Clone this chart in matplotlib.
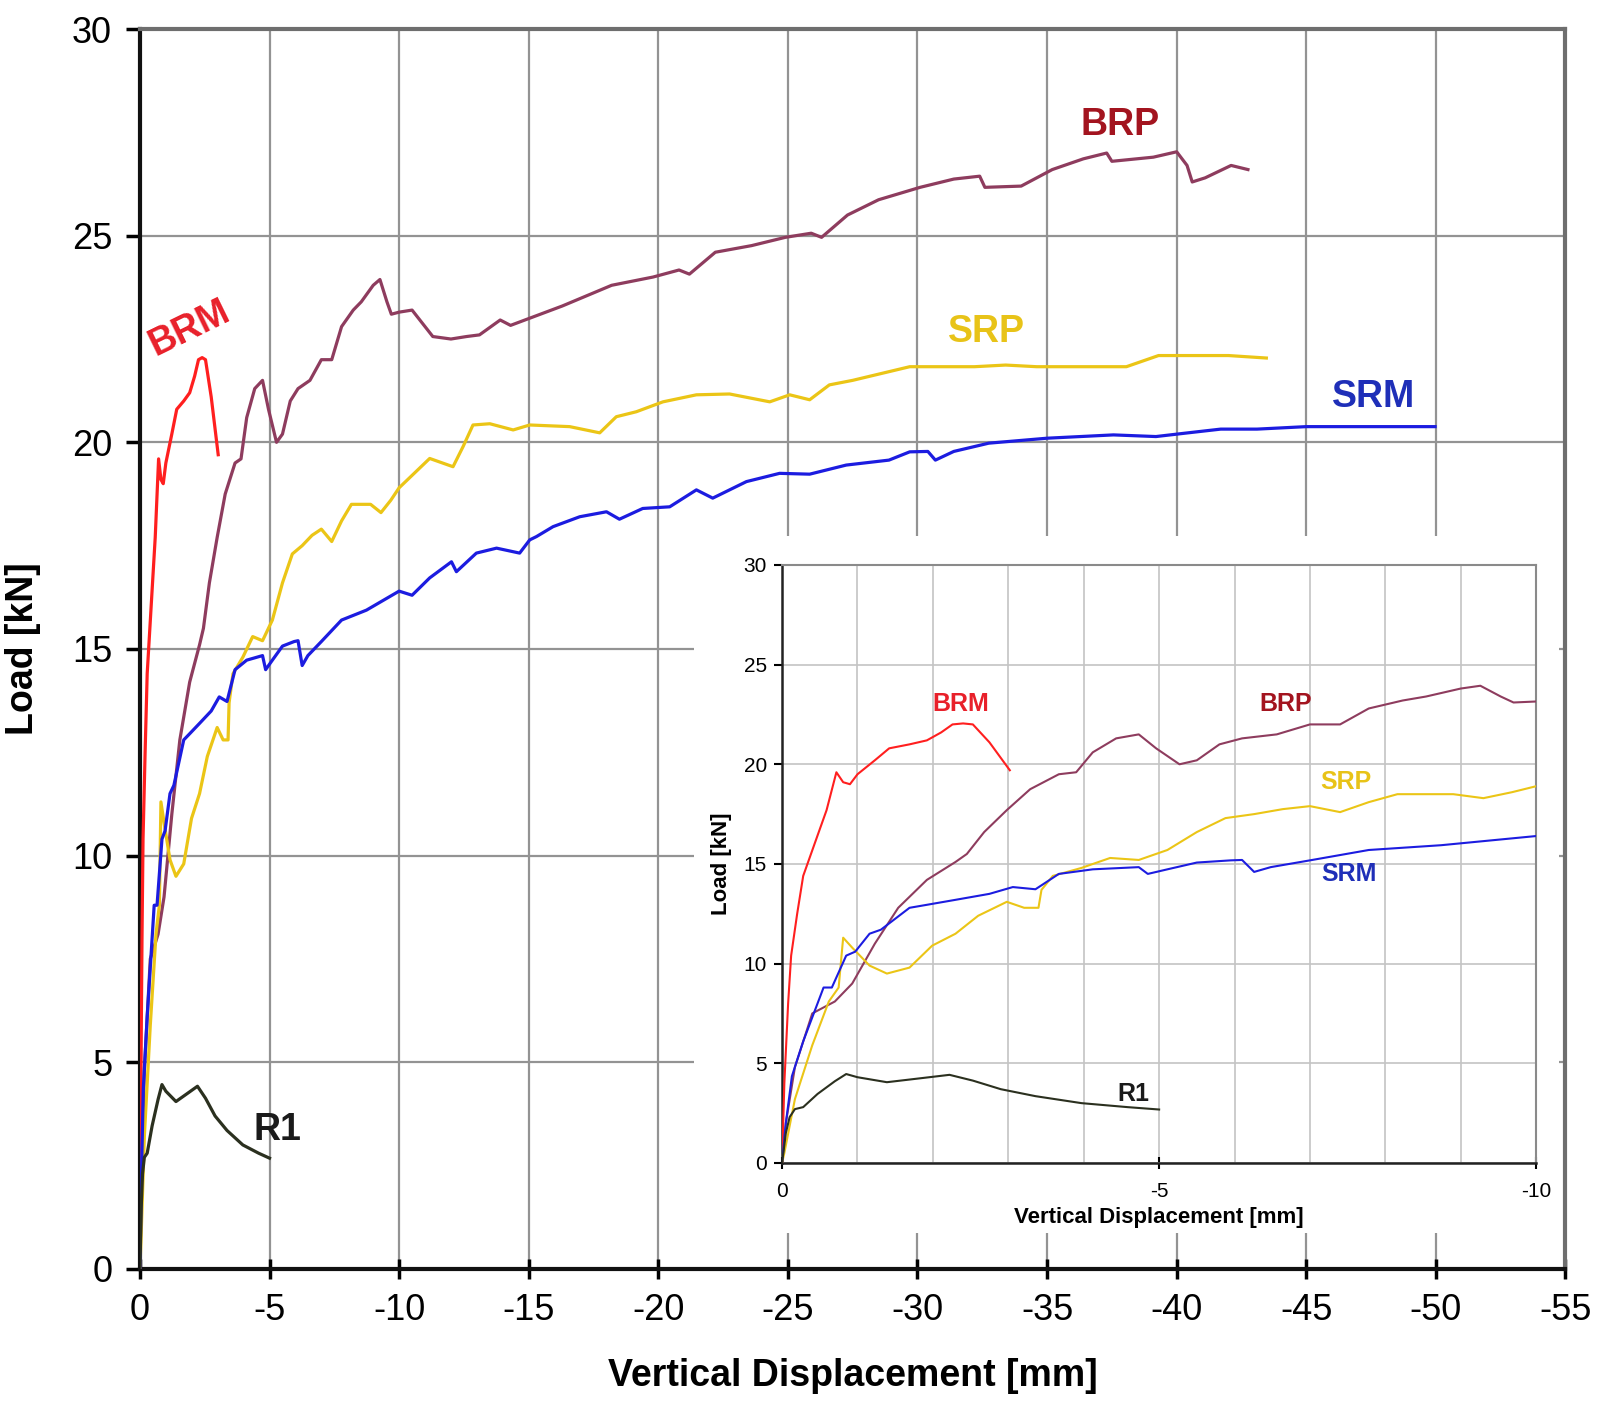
import matplotlib
matplotlib.use("Agg")
import matplotlib.pyplot as plt
from matplotlib.patches import Rectangle
from matplotlib.ticker import MultipleLocator

plt.rcParams['font.family'] = ['Liberation Sans', 'DejaVu Sans']
plt.rcParams['axes.unicode_minus'] = False

# displacement [mm] (negative = downward) and load [kN] for each specimen
brm_disp = [0, -0.03, -0.08, -0.12, -0.2, -0.28, -0.43, -0.59, -0.72, -0.81, -0.9, -1.0,
            -1.23, -1.42, -1.69, -1.92, -2.11, -2.26, -2.4, -2.53, -2.75, -3.02]
brm_load = [0, 4.0, 8.0, 10.4, 12.5, 14.4, 16.0, 17.7, 19.6, 19.1, 19.0, 19.5,
            20.2, 20.8, 21.0, 21.2, 21.6, 22.0, 22.05, 22.0, 21.1, 19.7]

brp_disp = [0, -0.05, -0.17, -0.4, -0.7, -0.93, -1.23, -1.54, -1.92, -2.3, -2.45, -2.68,
            -2.98, -3.29, -3.67, -3.9, -4.12, -4.43, -4.73, -4.96, -5.27, -5.5, -5.8,
            -6.1, -6.56, -7.0, -7.4, -7.78, -8.23, -8.54, -9.0, -9.26, -9.53, -9.7,
            -10.0, -10.5, -11.3, -12.0, -12.6, -13.1, -13.9, -14.3, -16.3, -18.2,
            -19.8, -20.8, -21.2, -22.2, -23.6, -24.9, -25.9, -26.3, -27.3, -28.5,
            -30.1, -31.4, -32.4, -32.6, -34.0, -35.2, -36.4, -37.3, -37.5, -39.1,
            -40.0, -40.4, -40.6, -41.1, -42.1, -42.75]
brp_load = [0, 2.0, 4.8, 7.5, 8.1, 9.0, 11.0, 12.8, 14.2, 15.1, 15.5, 16.6,
            17.7, 18.75, 19.5, 19.6, 20.6, 21.3, 21.5, 20.8, 20.0, 20.2, 21.0,
            21.3, 21.5, 22.0, 22.0, 22.8, 23.2, 23.4, 23.8, 23.94, 23.4, 23.1,
            23.15, 23.2, 22.56, 22.5, 22.56, 22.6, 22.96, 22.83, 23.3, 23.8,
            24.0, 24.17, 24.07, 24.6, 24.76, 24.96, 25.06, 24.96, 25.5, 25.87,
            26.17, 26.37, 26.44, 26.17, 26.2, 26.6, 26.86, 27.0, 26.8, 26.9,
            27.03, 26.7, 26.3, 26.4, 26.7, 26.6]

srp_disp = [0, -0.03, -0.17, -0.4, -0.62, -0.75, -0.81, -0.93, -1.16, -1.39, -1.69,
            -1.99, -2.3, -2.6, -2.98, -3.21, -3.4, -3.44, -3.59, -3.97, -4.35, -4.73,
            -5.11, -5.5, -5.88, -6.26, -6.64, -7.0, -7.4, -7.78, -8.16, -8.54, -8.9,
            -9.3, -9.68, -10.0, -11.18, -12.08, -12.47, -12.85, -13.5, -14.4, -15.04,
            -16.58, -17.74, -18.38, -19.15, -20.18, -21.47, -22.75, -24.3, -25.07,
            -25.84, -26.6, -27.5, -29.7, -32.2, -33.4, -34.6, -38.06, -39.3, -42.0,
            -43.46]
srp_load = [0, 0.5, 3.2, 5.9, 8.1, 8.8, 11.3, 10.8, 9.9, 9.5, 9.8,
            10.9, 11.5, 12.4, 13.1, 12.8, 12.8, 13.7, 14.4, 14.8, 15.3, 15.2,
            15.7, 16.6, 17.3, 17.5, 17.75, 17.9, 17.6, 18.1, 18.5, 18.5, 18.5,
            18.3, 18.6, 18.9, 19.61, 19.41, 19.9, 20.42, 20.45, 20.3, 20.42,
            20.38, 20.23, 20.62, 20.74, 20.98, 21.15, 21.17, 20.98, 21.15,
            21.03, 21.39, 21.5, 21.83, 21.83, 21.87, 21.83, 21.83, 22.1, 22.1,
            22.04]

srm_disp = [0, -0.05, -0.13, -0.28, -0.55, -0.66, -0.85, -0.97, -1.16, -1.31, -1.69,
            -1.92, -2.3, -2.75, -3.06, -3.36, -3.67, -4.12, -4.73, -4.85, -5.11,
            -5.5, -5.95, -6.1, -6.26, -6.48, -7.0, -7.78, -8.74, -10.0, -10.5,
            -11.18, -12.02, -12.21, -12.98, -13.76, -14.65, -15.04, -15.3, -15.94,
            -16.97, -18.0, -18.5, -19.4, -20.44, -21.47, -22.1, -23.4, -24.68,
            -25.84, -27.25, -28.9, -29.7, -30.4, -30.69, -31.4, -32.75, -35.0,
            -37.56, -39.2, -40.3, -41.7, -43.1, -45.0, -49.97]
srm_load = [0, 2.0, 4.35, 6.1, 8.8, 8.8, 10.4, 10.6, 11.5, 11.7, 12.8,
            12.95, 13.2, 13.5, 13.84, 13.73, 14.5, 14.73, 14.84, 14.5, 14.73,
            15.07, 15.18, 15.2, 14.6, 14.84, 15.18, 15.7, 15.94, 16.4, 16.3,
            16.72, 17.11, 16.87, 17.32, 17.44, 17.32, 17.64, 17.72, 17.96,
            18.2, 18.32, 18.14, 18.4, 18.44, 18.85, 18.65, 19.05, 19.25,
            19.23, 19.45, 19.57, 19.77, 19.78, 19.57, 19.78, 19.98, 20.1,
            20.18, 20.14, 20.22, 20.32, 20.32, 20.38, 20.38]

r1_disp = [0, -0.05, -0.1, -0.17, -0.28, -0.47, -0.7, -0.85, -1.0, -1.39, -1.84,
           -2.22, -2.53, -2.9, -3.36, -3.97, -4.58, -5.0]
r1_load = [0, 1.5, 2.3, 2.7, 2.8, 3.46, 4.1, 4.46, 4.3, 4.05, 4.25,
           4.42, 4.13, 3.7, 3.35, 3.0, 2.8, 2.68]

series = [
    ("BRM", brm_disp, brm_load, "#ff1f1f", "#e8202a"),
    ("BRP", brp_disp, brp_load, "#8e3c5e", "#a3141f"),
    ("SRP", srp_disp, srp_load, "#ebc516", "#e8c318"),
    ("SRM", srm_disp, srm_load, "#1c1ce0", "#1f2fb8"),
    ("R1", r1_disp, r1_load, "#2b301f", "#1a1a1a"),
]

# label anchor positions (x, y) in data units
main_label_pos = {"BRM": (-1.93, 22.75), "BRP": (-37.8, 27.67), "SRP": (-32.66, 22.66),
                  "SRM": (-47.6, 21.1), "R1": (-5.3, 3.36)}
inset_label_pos = {"BRM": (-2.37, 23.0), "BRP": (-6.68, 23.0), "SRP": (-7.48, 19.1),
                   "SRM": (-7.52, 14.5), "R1": (-4.66, 3.48)}

fig = plt.figure(figsize=(16.01, 14.17), dpi=100)
ax = fig.add_axes([0.0874, 0.1045, 0.8904, 0.875])

for name, d, l, c, tc in series:
    ax.plot(d, l, color=c, lw=2.3, zorder=3)
    x, y = main_label_pos[name]
    ax.text(x, y, name, color=tc, fontsize=27, fontweight='bold', ha='center', va='center',
            rotation=26 if name == "BRM" else 0, zorder=4)

ax.set_xlim(0, -55)
ax.set_ylim(0, 30)
ax.xaxis.set_major_locator(MultipleLocator(5))
ax.yaxis.set_major_locator(MultipleLocator(5))
ax.grid(True, color='#939393', lw=1.6, zorder=0)
ax.set_axisbelow(True)
ax.tick_params(axis='x', direction='inout', length=14, width=2.5, labelsize=26, pad=10)
ax.tick_params(axis='y', direction='out', length=10, width=2.5, labelsize=26, pad=10)
for side in ['left', 'bottom']:
    ax.spines[side].set_color('#111111')
    ax.spines[side].set_linewidth(3)
for side in ['top', 'right']:
    ax.spines[side].set_color('#6e6e6e')
    ax.spines[side].set_linewidth(3)
ax.set_xlabel('Vertical Displacement [mm]', fontsize=27, fontweight='bold', labelpad=22)
ax.set_ylabel('Load [kN]', fontsize=27, fontweight='bold', labelpad=22)

# white panel behind the inset
fig.patches.append(Rectangle((0.4335, 0.1298), 0.54, 0.492, transform=fig.transFigure,
                             facecolor='white', edgecolor='none', zorder=1))

ins = fig.add_axes([0.4885, 0.1793, 0.471, 0.422], zorder=2)
for name, d, l, c, tc in series:
    ins.plot(d, l, color=c, lw=1.5, zorder=3)
    x, y = inset_label_pos[name]
    ins.text(x, y, name, color=tc, fontsize=18, fontweight='bold', ha='center', va='center',
             zorder=4)
ins.set_xlim(0, -10)
ins.set_ylim(0, 30)
ins.xaxis.set_major_locator(MultipleLocator(5))
ins.xaxis.set_minor_locator(MultipleLocator(1))
ins.yaxis.set_major_locator(MultipleLocator(5))
ins.grid(True, which='both', color='#c4c4c4', lw=1.2, zorder=0)
ins.set_axisbelow(True)
ins.tick_params(axis='x', which='major', direction='inout', length=8, width=1.5, labelsize=15, pad=10)
ins.tick_params(axis='x', which='minor', length=0)
ins.tick_params(axis='y', direction='out', length=6, width=1.5, labelsize=15, pad=5)
for side in ['left', 'bottom']:
    ins.spines[side].set_color('#222222')
    ins.spines[side].set_linewidth(1.8)
for side in ['top', 'right']:
    ins.spines[side].set_color('#8a8a8a')
    ins.spines[side].set_linewidth(1.5)
ins.set_xlabel('Vertical Displacement [mm]', fontsize=16, fontweight='bold', labelpad=4)
ins.set_ylabel('Load [kN]', fontsize=16, fontweight='bold', labelpad=8)

fig.savefig('out.png', dpi=100)
